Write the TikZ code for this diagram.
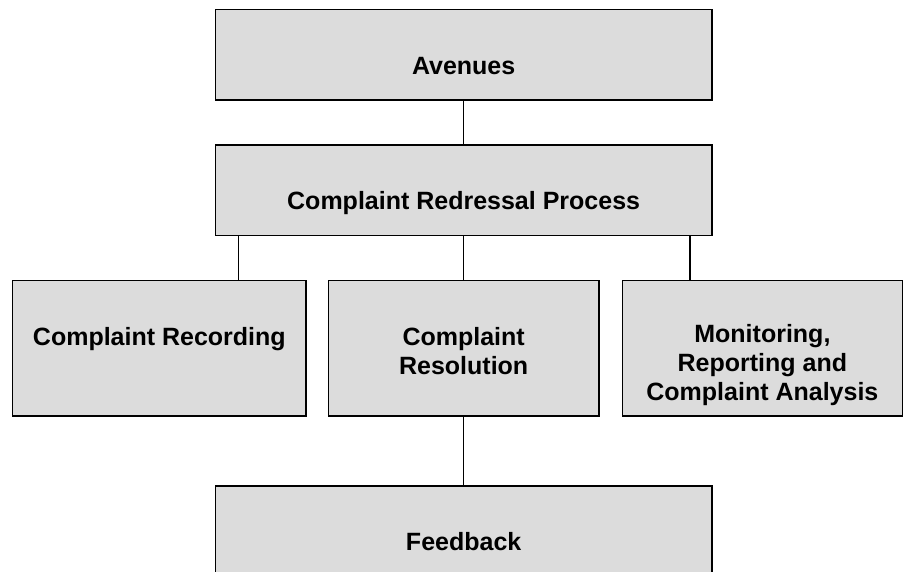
\documentclass[tikz,border=0pt]{standalone}
\usepackage{fontspec}
\setmainfont{Liberation Sans}
\definecolor{boxfill}{RGB}{220,220,220}
\begin{document}
\begin{tikzpicture}[x=1pt,y=-1pt,
  box/.style={draw=black, fill=boxfill, line width=1.5pt, rectangle,
    inner sep=0pt, outer sep=0pt},
  wide/.style={box, minimum width=496.7pt, minimum height=90.5pt},
  tall/.style={box, minimum height=135.5pt},
  label/.style={anchor=base, align=center, inner sep=0pt,
    font=\fontsize{25}{28.8}\selectfont\bfseries},
  link/.style={draw=black, line width=1.1pt}]
\useasboundingbox (0,0) rectangle (904,571);

% boxes
\node[wide] (avenues) at (463.65,54.75) {};
\node[wide] (crp) at (463.65,190.25) {};
\node[tall, minimum width=293.3pt] (recording) at (159.35,348.25) {};
\node[tall, minimum width=270.7pt] (resolution) at (463.65,348.25) {};
\node[tall, minimum width=280.2pt] (monitoring) at (762.4,348.25) {};
\node[wide] (feedback) at (463.65,531.25) {};

% texts (base anchor sits on the last line of a multi-line label)
\node[label] (avenuesText) at (463.65,74) {Avenues};
\node[label] (crpText) at (463.65,209.3) {Complaint Redressal Process};
\node[label] (recordingText) at (159.35,345) {Complaint Recording};
\node[label] (resolutionText) at (463.65,374.3) {Complaint\\Resolution};
\node[label] (monitoringText) at (762.4,400) {Monitoring,\\Reporting and\\Complaint Analysis};
\node[label] (feedbackText) at (463.65,550) {Feedback};

% connectors
\draw[link] (avenues.south) -- (crp.north);
\draw[link] ([xshift=-225.35pt]crp.south) -- ([xshift=-225.35pt]crp.south |- recording.north);
\draw[link] (crp.south) -- (resolution.north);
\draw[link] ([xshift=226.35pt]crp.south) -- ([xshift=226.35pt]crp.south |- monitoring.north);
\draw[link] (resolution.south) -- (feedback.north);
\end{tikzpicture}
\end{document}
